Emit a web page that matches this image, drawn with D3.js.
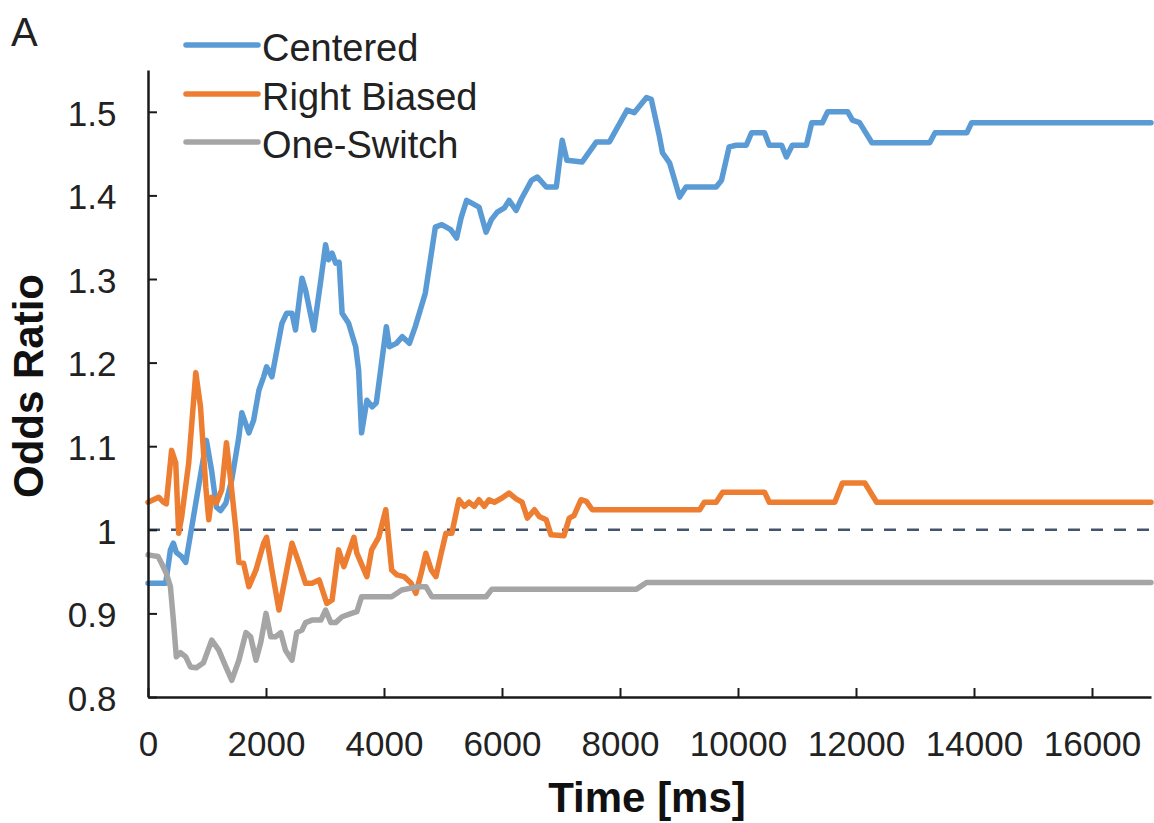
<!DOCTYPE html>
<html>
<head>
<meta charset="utf-8">
<script src="https://cdn.jsdelivr.net/npm/d3@7"></script>
<style>
  html, body { margin: 0; padding: 0; background: #fff; }
  svg { display: block; font-family: "Liberation Sans", Arial, sans-serif; }
</style>
</head>
<body>
<svg id="chart" width="1154" height="823"></svg>
<script>
// ---- data ----
const seriesNames = ["Centered", "Right Biased", "One-Switch"];
const seriesColors = ["#5B9BD5", "#ED7D31", "#A5A5A5"];

const centered = [
  [0,0.936],[300,0.936],[380,0.976],[430,0.984],[480,0.973],[570,0.968],[640,0.961],[990,1.107],
  [1080,1.07],[1160,1.027],[1230,1.023],[1320,1.032],[1420,1.06],[1540,1.111],[1590,1.140],[1710,1.116],
  [1790,1.131],[1880,1.167],[1960,1.183],[2010,1.195],[2100,1.183],[2270,1.247],[2350,1.259],[2440,1.259],
  [2500,1.239],[2610,1.301],[2670,1.287],[2810,1.239],[2930,1.299],[3010,1.341],[3060,1.323],[3120,1.331],
  [3180,1.319],[3240,1.320],[3290,1.259],[3400,1.247],[3520,1.219],[3570,1.191],[3620,1.116],[3710,1.155],
  [3800,1.147],[3870,1.152],[4040,1.243],[4090,1.219],[4210,1.223],[4310,1.231],[4430,1.223],[4530,1.243],
  [4700,1.283],[4870,1.362],[4980,1.365],[5130,1.359],[5230,1.349],[5310,1.374],[5400,1.394],[5480,1.391],
  [5610,1.386],[5730,1.356],[5820,1.371],[5920,1.380],[6040,1.385],[6120,1.394],[6240,1.382],[6330,1.396],
  [6500,1.418],[6600,1.422],[6750,1.410],[6920,1.410],[7020,1.466],[7100,1.442],[7360,1.440],[7600,1.464],
  [7820,1.464],[8120,1.502],[8240,1.499],[8450,1.517],[8530,1.515],[8670,1.470],[8720,1.451],[8840,1.439],
  [9010,1.398],[9120,1.410],[9630,1.410],[9720,1.418],[9850,1.458],[9970,1.460],[10140,1.460],[10230,1.475],
  [10450,1.475],[10530,1.460],[10740,1.460],[10820,1.446],[10920,1.460],[11160,1.460],[11250,1.487],[11430,1.487],
  [11520,1.500],[11860,1.500],[11940,1.490],[12060,1.487],[12270,1.463],[13250,1.463],[13340,1.475],[13880,1.475],
  [13960,1.487],[17000,1.487]
];

const rightBiased = [
  [0,1.033],[180,1.039],[260,1.033],[310,1.031],[400,1.095],[470,1.08],[520,0.996],[570,1.015],[690,1.08],
  [810,1.188],[890,1.147],[980,1.051],[1030,1.012],[1080,1.039],[1160,1.032],[1250,1.048],[1330,1.104],
  [1400,1.06],[1490,1.0],[1540,0.961],[1620,0.960],[1710,0.932],[1830,0.952],[1960,0.984],[2010,0.991],
  [2100,0.952],[2220,0.904],[2330,0.944],[2440,0.984],[2560,0.96],[2670,0.936],[2780,0.936],[2900,0.94],
  [3030,0.912],[3120,0.916],[3230,0.976],[3320,0.956],[3490,0.991],[3540,0.972],[3710,0.944],[3790,0.976],
  [3910,0.991],[4030,1.024],[4130,0.952],[4220,0.946],[4340,0.944],[4460,0.936],[4540,0.924],[4630,0.948],
  [4710,0.972],[4800,0.952],[4880,0.944],[4970,0.972],[5050,0.996],[5150,0.996],[5270,1.036],[5360,1.028],
  [5440,1.033],[5530,1.028],[5610,1.036],[5700,1.028],[5780,1.036],[5870,1.033],[6000,1.038],[6120,1.044],
  [6240,1.037],[6340,1.033],[6430,1.014],[6550,1.024],[6630,1.016],[6750,1.012],[6830,0.994],[7050,0.993],
  [7140,1.014],[7220,1.017],[7340,1.036],[7430,1.034],[7530,1.024],[9350,1.024],[9430,1.033],[9630,1.033],
  [9740,1.045],[10450,1.045],[10530,1.033],[11640,1.033],[11770,1.056],[12150,1.056],[12350,1.033],[17000,1.033]
];

const oneSwitch = [
  [0,0.970],[170,0.968],[230,0.960],[310,0.948],[380,0.932],[430,0.892],[480,0.848],[550,0.853],[640,0.848],
  [720,0.836],[820,0.835],[940,0.841],[1080,0.868],[1200,0.856],[1320,0.836],[1420,0.820],[1540,0.844],
  [1660,0.877],[1740,0.872],[1830,0.844],[1910,0.865],[2000,0.900],[2080,0.872],[2160,0.872],[2250,0.877],
  [2330,0.856],[2440,0.844],[2520,0.877],[2610,0.880],[2670,0.889],[2780,0.892],[2930,0.892],[3010,0.904],
  [3100,0.889],[3180,0.889],[3290,0.896],[3450,0.900],[3540,0.902],[3620,0.920],[4130,0.920],[4300,0.928],
  [4590,0.932],[4710,0.932],[4810,0.920],[5730,0.920],[5830,0.929],[8280,0.929],[8450,0.937],[17000,0.937]
];

const xTicks = [0,2000,4000,6000,8000,10000,12000,14000,16000];
const yTicks = [0.8,0.9,1.0,1.1,1.2,1.3,1.4,1.5];
const yTickLabels = ["0.8","0.9","1","1.1","1.2","1.3","1.4","1.5"];
const referenceValue = 1.0;
const xTitle = "Time [ms]";
const yTitle = "Odds Ratio";
const panelLabel = "A";

// ---- layout ----
const svg = d3.select("#chart");
const plotLeft = 148, plotRight = 1151, plotTop = 70, plotBottom = 697;
const x = d3.scaleLinear().domain([0, 17000]).range([plotLeft, plotRight]);
const y = d3.scaleLinear().domain([0.8, 1.55]).range([plotBottom, plotTop]);
const axisColor = "#1a1a1a";

// reference dashed line
svg.append("line")
  .attr("x1", x(0)).attr("x2", x(17000))
  .attr("y1", y(referenceValue)).attr("y2", y(referenceValue))
  .attr("stroke", "#44546A").attr("stroke-width", 2.5)
  .attr("stroke-dasharray", "12,11");

// series lines
const line = d3.line().x(d => x(d[0])).y(d => y(d[1]));
[centered, rightBiased, oneSwitch].forEach((s, i) => {
  svg.append("path")
    .datum(s)
    .attr("d", line)
    .attr("fill", "none")
    .attr("stroke", seriesColors[i])
    .attr("stroke-width", 5.5)
    .attr("stroke-linejoin", "round")
    .attr("stroke-linecap", "round");
});

// axes
const yAxis = d3.axisLeft(y).tickValues(yTicks)
  .tickFormat((d, i) => yTickLabels[i])
  .tickSize(-9).tickSizeOuter(0).tickPadding(31.5);
const gy = svg.append("g").attr("transform", `translate(${plotLeft},0)`).call(yAxis);

const xAxis = d3.axisBottom(x).tickValues(xTicks)
  .tickFormat(d => String(d))
  .tickSize(-9).tickSizeOuter(0).tickPadding(34);
const gx = svg.append("g").attr("transform", `translate(0,${plotBottom})`).call(xAxis);

[gx, gy].forEach(g => {
  g.select(".domain").attr("stroke", axisColor).attr("stroke-width", 2.5);
  g.selectAll(".tick line").attr("stroke", axisColor).attr("stroke-width", 2);
  g.selectAll(".tick text")
    .attr("fill", "#222")
    .style("font-family", '"Liberation Sans", Arial, sans-serif')
    .style("font-size", "35px");
});
gy.selectAll(".tick text").attr("dy", "0.38em");

// axis titles
svg.append("text")
  .attr("transform", `translate(43,386) rotate(-90)`)
  .attr("text-anchor", "middle")
  .attr("fill", "#111")
  .style("font-size", "42px").style("font-weight", "bold")
  .text(yTitle);

svg.append("text")
  .attr("x", 647).attr("y", 812)
  .attr("text-anchor", "middle")
  .attr("fill", "#111")
  .style("font-size", "42px").style("font-weight", "bold")
  .text(xTitle);

// panel label
svg.append("text")
  .attr("x", 11).attr("y", 46)
  .attr("fill", "#222")
  .style("font-size", "40px")
  .text(panelLabel);

// legend
const legendY = [45, 94, 142];
seriesNames.forEach((name, i) => {
  svg.append("line")
    .attr("x1", 186).attr("x2", 258)
    .attr("y1", legendY[i]).attr("y2", legendY[i])
    .attr("stroke", seriesColors[i]).attr("stroke-width", 5.5)
    .attr("stroke-linecap", "round");
  svg.append("text")
    .attr("x", 262).attr("y", legendY[i] + 16)
    .attr("fill", "#222")
    .style("font-size", "38px")
    .text(name);
});
</script>
</body>
</html>
